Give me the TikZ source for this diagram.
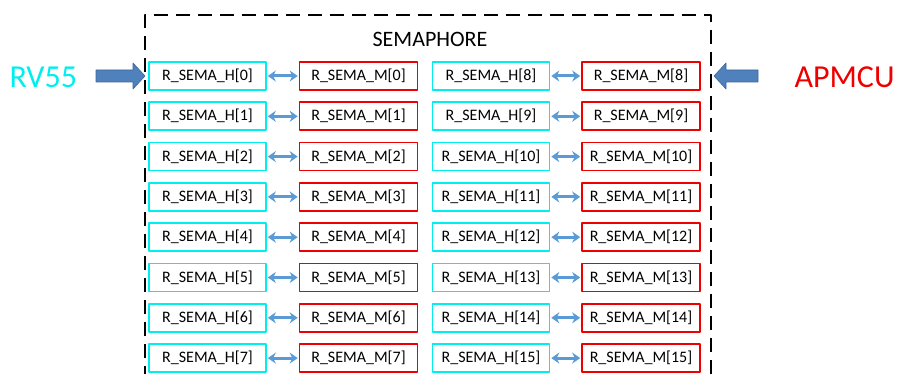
\documentclass[tikz,border=0pt]{standalone}
\usepackage{fontspec}
\setmainfont{Carlito}
\usetikzlibrary{arrows.meta}

\definecolor{hcyan}{RGB}{0,238,238}
\definecolor{mred}{RGB}{238,0,0}
\definecolor{linkblue}{RGB}{91,155,213}
\definecolor{bigblue}{RGB}{79,129,189}

\begin{document}
\begin{tikzpicture}[x=1pt,y=-1pt, line join=round, >=Stealth,
  hreg/.style={draw=hcyan, line width=1.6pt, minimum width=117pt, minimum height=28pt, inner sep=0pt, font=\fontsize{16}{16}\selectfont},
  mreg/.style={draw=mred, line width=1.6pt, minimum width=118pt, minimum height=28pt, inner sep=0pt, font=\fontsize{16}{16}\selectfont},
  link/.style={draw=linkblue, line width=3pt, shorten <=1pt, shorten >=1pt, {Stealth[length=8pt,width=11pt]}-{Stealth[length=8pt,width=11pt]}},
  bigarrow/.style={draw=bigblue!80!black, line width=0.6pt, fill=bigblue},
  master/.style={font=\fontsize{32}{32}\selectfont, anchor=west}]
  \useasboundingbox (0,0) rectangle (900,374);

  % semaphore block, open at the bottom
  \draw[line width=2.2pt, dash pattern=on 14pt off 8pt] (145,380) -- (145,15) -- (711,15) -- (711,380);
  \node[font=\fontsize{22}{22}\selectfont] (sema) at (430,39) {SEMAPHORE};

  % register pairs
  \foreach \i in {0,...,7} {
    \pgfmathtruncatemacro{\j}{\i+8}
    \node[hreg] (h\i) at (207.5,76+40.3*\i) {R\_SEMA\_H[\i]};
    \node[mreg] (m\i) at (358.5,76+40.3*\i) {R\_SEMA\_M[\i]};
    \node[hreg] (h\j) at (491,76+40.3*\i) {R\_SEMA\_H[\j]};
    \node[mreg] (m\j) at (641,76+40.3*\i) {R\_SEMA\_M[\j]};
    \draw[link] (h\i) -- (m\i);
    \draw[link] (h\j) -- (m\j);
  }

  % masters
  \node[master, text=hcyan] (rv) at (6,77) {RV55};
  \node[master, text=mred] (ap) at (791,77) {APMCU};
  \coordinate (rvtip) at (145,76);
  \coordinate (aptip) at (714,76);
  \draw[bigarrow] (96,70) -- (133,70) -- (133,63) -- (rvtip) -- (133,89) -- (133,82) -- (96,82) -- cycle;
  \draw[bigarrow] (758,70) -- (726,70) -- (726,63) -- (aptip) -- (726,89) -- (726,82) -- (758,82) -- cycle;
\end{tikzpicture}
\end{document}
